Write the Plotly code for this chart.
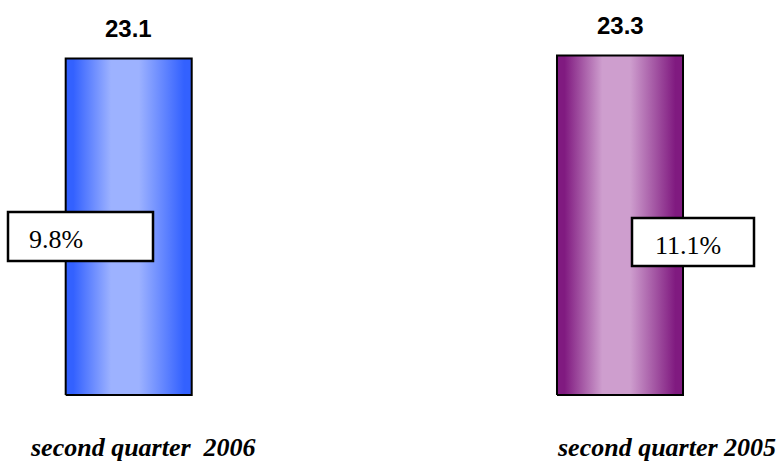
import plotly.graph_objects as go

# Data
periods = ["second quarter&nbsp; 2006", "second quarter 2005"]
values = [23.1, 23.3]
shares = ["9.8%", "11.1%"]

# Styling
edge_colors = ["#3361FF", "#801A80"]
mid_colors = ["#9DB2FF", "#CE9ECE"]
bar_width = 0.2565
W, H = 781, 462
SERIF = "Liberation Serif"
SANS = "Liberation Sans"

fig = go.Figure()

for i, (v, c_edge, c_mid) in enumerate(zip(values, edge_colors, mid_colors)):
    x0, x1 = i - bar_width / 2, i + bar_width / 2
    fig.add_trace(go.Scatter(
        x=[x0, x1, x1, x0, x0],
        y=[0, 0, v, v, 0],
        mode="lines",
        fill="toself",
        line=dict(color="black", width=2),
        fillgradient=dict(
            type="horizontal",
            colorscale=[[0, c_edge], [0.06, c_edge], [0.36, c_mid], [0.58, c_mid],
                        [0.94, c_edge], [1, c_edge]],
            start=x0, stop=x1,
        ),
        hoverinfo="skip",
        showlegend=False,
    ))
    # value above each bar
    fig.add_annotation(
        x=i, y=v, xref="x", yref="y", text=f"<b>{v}</b>", showarrow=False,
        yanchor="middle", yshift=30,
        font=dict(family=SANS, size=24, color="black"),
    )

# period labels under the bars
for i, (lab, shift) in enumerate(zip(periods, [14, 46])):
    fig.add_annotation(
        x=i, y=1 - 447 / H, xref="x", yref="paper", text=f"<b><i>{lab}</i></b>",
        showarrow=False, xshift=shift, yanchor="middle",
        font=dict(family=SERIF, size=26, color="black"),
    )

# boxed growth shares
boxes = [(8, 212, 153, 261, 56, 240), (632, 218, 754, 266, 688, 245)]
for txt, (bx0, by0, bx1, by1, tx, ty) in zip(shares, boxes):
    fig.add_shape(
        type="rect", xref="paper", yref="paper",
        x0=bx0 / W, x1=bx1 / W, y0=1 - by1 / H, y1=1 - by0 / H,
        line=dict(color="black", width=2.5), fillcolor="white", layer="above",
    )
    fig.add_annotation(
        x=tx / W, y=1 - ty / H, xref="paper", yref="paper", text=txt,
        showarrow=False, xanchor="center", yanchor="middle",
        font=dict(family=SERIF, size=26, color="black"),
    )

px_per_x = 491.3
px_per_y = 14.57
xmin = -128.7 / px_per_x
ymin = -(H - 395) / px_per_y

fig.update_layout(
    width=W, height=H,
    margin=dict(l=0, r=0, t=0, b=0, pad=0),
    paper_bgcolor="white", plot_bgcolor="white",
    xaxis=dict(range=[xmin, xmin + W / px_per_x], visible=False, fixedrange=True),
    yaxis=dict(range=[ymin, ymin + H / px_per_y], visible=False, fixedrange=True),
    showlegend=False,
)

fig.write_html("out.html")
